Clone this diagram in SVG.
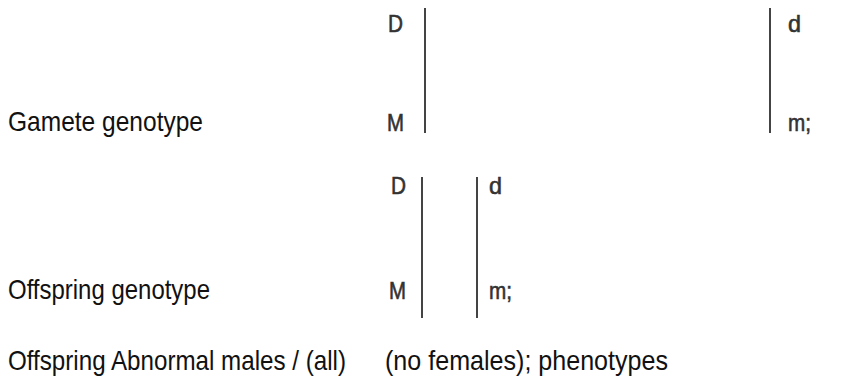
<svg xmlns="http://www.w3.org/2000/svg" width="843" height="379" viewBox="0 0 843 379">
<style>
.lbl{font-family:"Liberation Sans",Arial,sans-serif;font-size:28px;fill:#111}
.al{font-family:"Liberation Sans",Arial,sans-serif;font-size:24px;fill:#333;stroke:#333;stroke-width:0.6}
.bar{stroke:#444;stroke-width:2;fill:none}
</style>
<rect width="843" height="379" fill="#fff"/>
<g id="gamete-label"><text class="lbl" x="8" y="131" textLength="195" lengthAdjust="spacingAndGlyphs">Gamete genotype</text></g>
<g id="gamete-left">
<text class="al" x="388" y="32" textLength="15" lengthAdjust="spacingAndGlyphs">D</text>
<text class="al" x="387" y="131" textLength="17" lengthAdjust="spacingAndGlyphs">M</text>
</g>
<g id="gamete-right">
<text class="al" x="788" y="32" textLength="13" lengthAdjust="spacingAndGlyphs">d</text>
<text class="al" x="788" y="131" textLength="23" lengthAdjust="spacingAndGlyphs">m;</text>
</g>
<g id="offspring-label"><text class="lbl" x="8" y="299" textLength="202" lengthAdjust="spacingAndGlyphs">Offspring genotype</text></g>
<g id="offspring-left">
<text class="al" x="391" y="194" textLength="15" lengthAdjust="spacingAndGlyphs">D</text>
<text class="al" x="389" y="299" textLength="17" lengthAdjust="spacingAndGlyphs">M</text>
</g>
<g id="offspring-right">
<text class="al" x="489" y="194" textLength="13" lengthAdjust="spacingAndGlyphs">d</text>
<text class="al" x="489" y="299" textLength="23" lengthAdjust="spacingAndGlyphs">m;</text>
</g>
<g id="phenotype-label">
<text class="lbl" x="8" y="370" textLength="338" lengthAdjust="spacingAndGlyphs">Offspring Abnormal males / (all)</text>
<text class="lbl" x="385" y="370" textLength="283" lengthAdjust="spacingAndGlyphs">(no females); phenotypes</text>
</g>
<g id="connectors">
<line class="bar" x1="425" y1="8" x2="425" y2="133"/>
<line class="bar" x1="770" y1="8" x2="770" y2="133"/>
<line class="bar" x1="422" y1="177" x2="422" y2="318"/>
<line class="bar" x1="477" y1="177" x2="477" y2="318"/>
</g>
</svg>
